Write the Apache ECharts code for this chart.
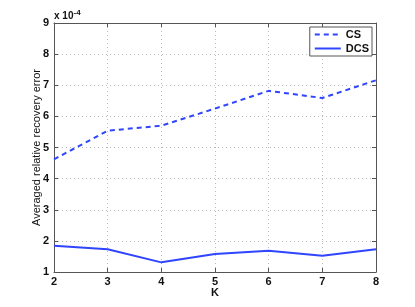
<!DOCTYPE html>
<html><head><meta charset="utf-8">
<script src="https://cdn.jsdelivr.net/npm/echarts@6/dist/echarts.min.js"></script>
<style>html,body{margin:0;padding:0;background:#fff}#c{width:415px;height:307px}</style>
</head><body><div id="c"></div>
<script>
const kValues = [2, 3, 4, 5, 6, 7, 8];
const csValues = [4.62, 5.54, 5.70, 6.25, 6.82, 6.59, 7.16];
const dcsValues = [1.84, 1.73, 1.31, 1.58, 1.68, 1.52, 1.73];
const xTicks = [2, 3, 4, 5, 6, 7, 8];
const yTicks = [1, 2, 3, 4, 5, 6, 7, 8, 9];

const chart = echarts.init(document.getElementById('c'), null, {renderer: 'canvas'});
const font = 'Liberation Sans, Arial, Helvetica, sans-serif';
const lineColor = '#2f45ff';
const axisCol = '#555';
const mkX = (pos, show) => ({
  type: 'value', min: 2, max: 8, interval: 1, position: pos,
  axisLine: {show: true, onZero: false, lineStyle: {color: axisCol, width: 1}},
  axisTick: {show: true, inside: true, length: 4, lineStyle: {color: axisCol}},
  axisLabel: {show: show, color: '#111', fontWeight: 'bold', fontSize: 11, fontFamily: font, margin: 4},
  splitLine: {show: show, lineStyle: {color: '#bbb', type: [1, 3], width: 1}},
  name: show ? 'K' : '', nameLocation: 'middle', nameGap: 15, nameMoveOverlap: false,
  nameTextStyle: {color: '#111', fontWeight: 'bold', fontSize: 11, fontFamily: font}
});
const mkY = (pos, show) => ({
  type: 'value', min: 1, max: 9, interval: 1, position: pos,
  axisLine: {show: true, onZero: false, lineStyle: {color: axisCol, width: 1}},
  axisTick: {show: true, inside: true, length: 4, lineStyle: {color: axisCol}},
  axisLabel: {show: show, color: '#111', fontWeight: 'bold', fontSize: 11, fontFamily: font, margin: 5},
  splitLine: {show: show, lineStyle: {color: '#bbb', type: [1, 3], width: 1}},
  name: show ? 'Averaged relative recovery error' : '', nameLocation: 'middle', nameGap: 12, nameMoveOverlap: false,
  nameTextStyle: {color: '#111', fontSize: 11, fontFamily: font}
});
chart.setOption({
  animation: false,
  backgroundColor: '#fff',
  grid: {left: 54, right: 39, top: 23, bottom: 35},
  xAxis: [mkX('bottom', true), mkX('top', false)],
  yAxis: [mkY('left', true), mkY('right', false)],
  legend: {
    right: 43, top: 27, orient: 'vertical', itemGap: 3, itemWidth: 26, itemHeight: 10,
    backgroundColor: '#fff', borderColor: '#555', borderWidth: 1, padding: [2, 3, 2, 4],
    itemStyle: {opacity: 0},
    textStyle: {color: '#111', fontWeight: 'bold', fontSize: 11, fontFamily: font},
    data: ['CS', 'DCS']
  },
  graphic: [{
    type: 'text', left: 54, top: 9,
    style: {
      text: '{a|x 10}{b|-4}', fontFamily: font,
      rich: {
        a: {fontSize: 10, fontWeight: 'bold', fill: '#111', fontFamily: font},
        b: {fontSize: 8, fontWeight: 'bold', fill: '#111', fontFamily: font, verticalAlign: 'top', padding: [0,0,6,0]}
      }
    }
  }],
  series: [
    {name: 'CS', type: 'line', data: kValues.map((k, i) => [k, csValues[i]]), symbol: 'none', showSymbol: false,
     lineStyle: {color: lineColor, width: 2, type: [5, 4]}, itemStyle: {color: lineColor}},
    {name: 'DCS', type: 'line', data: kValues.map((k, i) => [k, dcsValues[i]]), symbol: 'none', showSymbol: false,
     lineStyle: {color: lineColor, width: 2}, itemStyle: {color: lineColor}}
  ]
});
</script></body></html>
